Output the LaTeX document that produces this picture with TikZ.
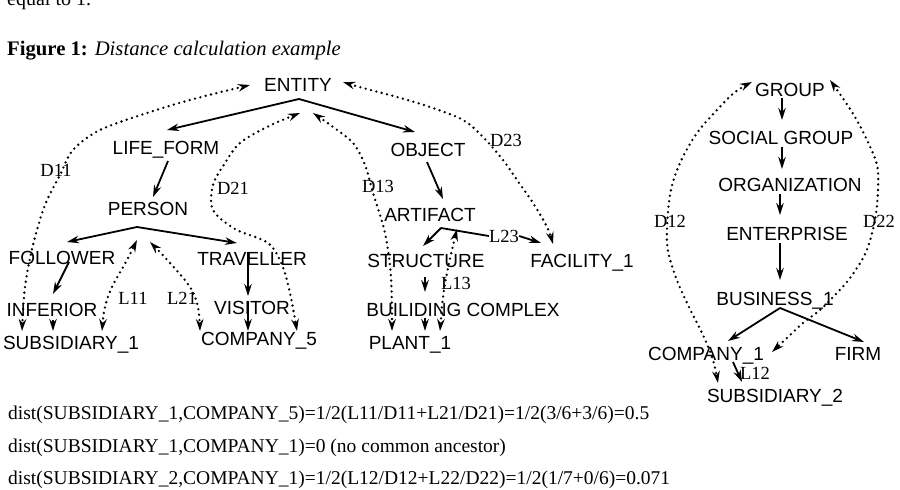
\documentclass[tikz,border=0pt]{standalone}
\usepackage{fontspec}
\setmainfont{Liberation Serif}
\newfontfamily\hv{Liberation Sans}
\usetikzlibrary{arrows.meta,calc}
\begin{document}
\begin{tikzpicture}[x=1pt,y=-1pt,
  lbl/.style={font=\hv\fontsize{19}{22}\selectfont, inner sep=0pt, text height=13pt, text depth=0pt},
  dl/.style={font=\fontsize{18.5}{22}\selectfont, inner sep=0pt},
  txt/.style={font=\fontsize{19.5}{23}\selectfont, inner sep=0pt, anchor=base west},
  sarr/.style={line width=1.8pt, -{Stealth[length=12pt,width=7.5pt]}},
  sline/.style={line width=1.8pt},
  darr/.style={line width=2.6pt, dash pattern=on 0pt off 5.5pt, line cap=round,
    {Stealth[length=12pt,width=7.5pt]}-{Stealth[length=12pt,width=7.5pt]}},
]
\path[use as bounding box] (0,0) rectangle (900,490);

% texts
\node[txt, font=\fontsize{20}{23}\selectfont] (top) at (7,5) {equal to 1.};
\node[txt, font=\fontsize{20.7}{24}\selectfont] (cap) at (7,55) {\textbf{Figure 1:} \textit{Distance calculation example}};
\node[txt] (t1) at (8,419) {dist(SUBSIDIARY\_1,COMPANY\_5)=1/2(L11/D11+L21/D21)=1/2(3/6+3/6)=0.5};
\node[txt] (t2) at (8,452) {dist(SUBSIDIARY\_1,COMPANY\_1)=0 (no common ancestor)};
\node[txt] (t3) at (8,484) {dist(SUBSIDIARY\_2,COMPANY\_1)=1/2(L12/D12+L22/D22)=1/2(1/7+0/6)=0.071};

% left tree nodes
\node[lbl] (E)  at (298,85)  {ENTITY};
\node[lbl] (LF) at (166,148) {LIFE\_FORM};
\node[lbl] (OB) at (428,150) {OBJECT};
\node[lbl] (PE) at (148,209) {PERSON};
\node[lbl] (FO) at (62,258)  {FOLLOWER};
\node[lbl] (TR) at (252,259) {TRAVELLER};
\node[lbl] (IN) at (52,310)  {INFERIOR};
\node[lbl] (VI) at (252,308) {VISITOR};
\node[lbl] (S1) at (71,343)  {SUBSIDIARY\_1};
\node[lbl] (C5) at (259,339) {COMPANY\_5};
\node[lbl] (P1) at (410,343) {PLANT\_1};
\node[lbl] (AR) at (430,215) {ARTIFACT};
\node[lbl] (ST) at (426,261) {STRUCTURE};
\node[lbl] (FA) at (582,261) {FACILITY\_1};
\node[lbl] (BC) at (463,310) {BUILIDING COMPLEX};

% right tree nodes
\node[lbl] (GR) at (790,90)  {GROUP};
\node[lbl] (SG) at (781,138) {SOCIAL GROUP};
\node[lbl] (OR) at (790,185) {ORGANIZATION};
\node[lbl] (EN) at (787,234) {ENTERPRISE};
\node[lbl] (BU) at (775,299) {BUSINESS\_1};
\node[lbl] (C1) at (706,354) {COMPANY\_1};
\node[lbl] (FI) at (858,354) {FIRM};
\node[lbl] (S2) at (775,396) {SUBSIDIARY\_2};

% distance labels
\node[dl] (d11) at (56,170)  {D11};
\node[dl] (d21) at (233,188) {D21};
\node[dl] (d13) at (378,186) {D13};
\node[dl] (d23) at (506,140) {D23};
\node[dl] (l11) at (133,298) {L11};
\node[dl] (l21) at (182,298) {L21};
\node[dl] (l13) at (456,283) {L13};
\node[dl] (l23) at (504,236) {L23};
\node[dl] (d12) at (670,221) {D12};
\node[dl] (d22) at (879,221) {D22};
\node[dl] (l12) at (755,373) {L12};

% solid hierarchy arrows (left)
\coordinate (ea) at ($(E)+(1,14)$);
\draw[sarr] (ea) -- ($(LF)+(1,-18)$);
\draw[sarr] (ea) -- ($(OB)+(-13,-18)$);
\draw[sarr] ($(LF)+(2,13)$) -- ($(PE)+(5,-12)$);
\coordinate (pa) at ($(PE)+(-11,18)$);
\draw[sarr] (pa) -- ($(FO)+(5,-16)$);
\draw[sarr] (pa) -- ($(TR)+(-15,-16)$);
\draw[sarr] ($(FO)+(7,4)$) -- ($(IN)+(1,-16)$);
\draw[sarr] ($(TR)+(-4,-7)$) -- ($(VI)+(-4,-12)$);
\draw[sarr] ($(VI)+(-4,-7)$) -- ($(C5)+(-11,-8)$);
\draw[sarr] ($(IN)+(1,10)$) -- ($(S1)+(-18,-12)$);
\draw[sarr] ($(OB)+(-1,12)$) -- ($(AR)+(13,-16)$);
\coordinate (aa) at ($(AR)+(11,13)$);
\draw[sarr] (aa) -- ($(ST)+(-3,-15)$);
\draw[sline] (aa) -- (l23.west);
\draw[sarr] (l23.east) -- ($(FA)+(-41,-18)$);
\draw[sarr] ($(ST)+(-1,16)$) -- ($(BC)+(-38,-18)$);
\draw[sarr] ($(BC)+(-38,8)$) -- ($(P1)+(15,-12)$);

% solid hierarchy arrows (right)
\draw[sarr] ($(GR)+(-8,8)$) -- ($(SG)+(1,-18)$);
\draw[sarr] ($(SG)+(1,9)$) -- ($(OR)+(-8,-16)$);
\draw[sarr] ($(OR)+(-10,9)$) -- ($(EN)+(-7,-19)$);
\draw[sarr] ($(EN)+(-7,9)$) -- ($(BU)+(5,-19)$);
\coordinate (ba) at ($(BU)+(5,9)$);
\draw[sarr] (ba) -- ($(C1)+(22,-13)$);
\draw[sarr] (ba) -- ($(FI)+(6,-12)$);
\draw[sarr] ($(C1)+(27,8)$) -- ($(S2)+(-33,-14)$);

% dotted distance paths
\draw[darr] plot[smooth, tension=0.55] coordinates {($(E)+(-48,0)$) (190,100) (147,113) (100,130) (73,150) (60,175) (45,205) (33,245) (25,287) ($(S1)+(-49,-12)$)};
\draw[darr] plot[smooth, tension=0.55] coordinates {($(E)+(2,28)$) (267,127) (240,143) (225,163) (213,185) (213,210) (235,229) (268,243) (282,265) (290,293) ($(C5)+(38,-8)$)};
\draw[darr] plot[smooth, tension=0.55] coordinates {($(S1)+(31,-12)$) (105,307) (112,287) (127,260) ($(PE)+(-11,31)$)};
\draw[darr] plot[smooth, tension=0.55] coordinates {($(PE)+(2,33)$) (170,263) (190,287) (198,307) ($(C5)+(-59,-8)$)};
\draw[darr] plot[smooth, tension=0.55] coordinates {($(E)+(15,28)$) (333,127) (353,143) (365,165) (373,193) (385,233) (391,277) ($(P1)+(-18,-12)$)};
\draw[darr] plot[smooth, tension=0.55] coordinates {($(P1)+(30,-12)$) (443,297) (447,273) (452,250) ($(AR)+(27,14)$)};
\draw[darr] plot[smooth, tension=0.55] coordinates {($(E)+(45,-3)$) (363,88) (397,97) (430,107) (463,120) (483,137) (503,160) (517,180) (533,203) (547,227) ($(FA)+(-29,-17)$)};
\draw[darr] plot[smooth, tension=0.55] coordinates {($(GR)+(-38,-8)$) (735,92) (717,110) (697,133) (680,163) (670,195) (667,243) (675,275) (688,305) (703,335) (713,360) ($(S2)+(-57,-13)$)};
\draw[darr] plot[smooth, tension=0.55] coordinates {($(GR)+(40,-10)$) (842,97) (855,117) (867,140) (877,165) (878,190) (875,220) (866,252) (850,278) (835,295) (820,310) (803,323) (788,337) ($(C1)+(66,-2)$)};
\end{tikzpicture}
\end{document}
